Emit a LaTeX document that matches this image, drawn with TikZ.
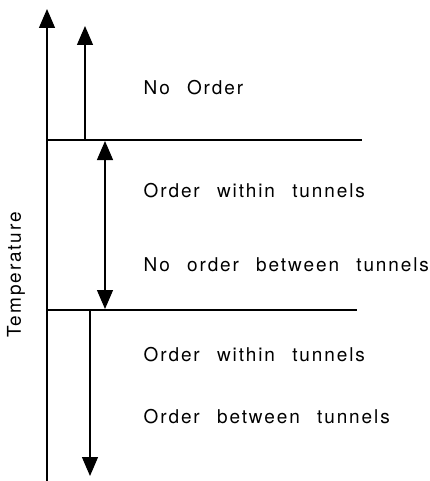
\documentclass[tikz,border=0pt]{standalone}
\usepackage{fontspec}
\usetikzlibrary{arrows.meta}
\newfontfamily\lblfont[LetterSpace=10,WordSpace=2.4]{TeX Gyre Heros}

\begin{document}
\begin{tikzpicture}[x=1pt,y=-1pt,line width=1.3pt,
    uphead/.style={-{Triangle[width=16pt,length=19pt]}},
    bothheads/.style={{Triangle[width=16pt,length=19pt]}-{Triangle[width=16pt,length=19pt]}},
    lbl/.style={anchor=base west,inner sep=0pt,font=\lblfont\fontsize{19}{22}\selectfont}]
    \useasboundingbox (0,0) rectangle (429,481);
    % Eix de temperatura
    \coordinate (axbot) at (47,481);
    \coordinate (axtop) at (47,9);
    \draw[uphead] (axbot) -- (axtop);
    \node[lbl,anchor=center,rotate=90] (temp) at (16,275) {Temperature};
    % Linies de transicio
    \coordinate (upL) at (47,140);  \coordinate (upR) at (362,140);
    \coordinate (loL) at (47,310);  \coordinate (loR) at (357,310);
    \draw (upL) -- (upR);
    \draw (loL) -- (loR);
    % Fletxes de cada zona
    \coordinate (a1) at (85,140);  \coordinate (a2) at (85,26);
    \draw[uphead] (a1) -- (a2);
    \coordinate (b1) at (105,141); \coordinate (b2) at (105,309);
    \draw[bothheads] (b1) -- (b2);
    \coordinate (c1) at (90,310);  \coordinate (c2) at (90,476);
    \draw[uphead] (c1) -- (c2);
    % Textos
    \node[lbl] (noord) at (143,95) {No Order};
    \node[lbl] (within1) at (143,197) {Order within tunnels};
    \node[lbl] (nobetw) at (143,271) {No order between tunnels};
    \node[lbl] (within2) at (143,361) {Order within tunnels};
    \node[lbl] (betw) at (143,423) {Order between tunnels};
\end{tikzpicture}
\end{document}
